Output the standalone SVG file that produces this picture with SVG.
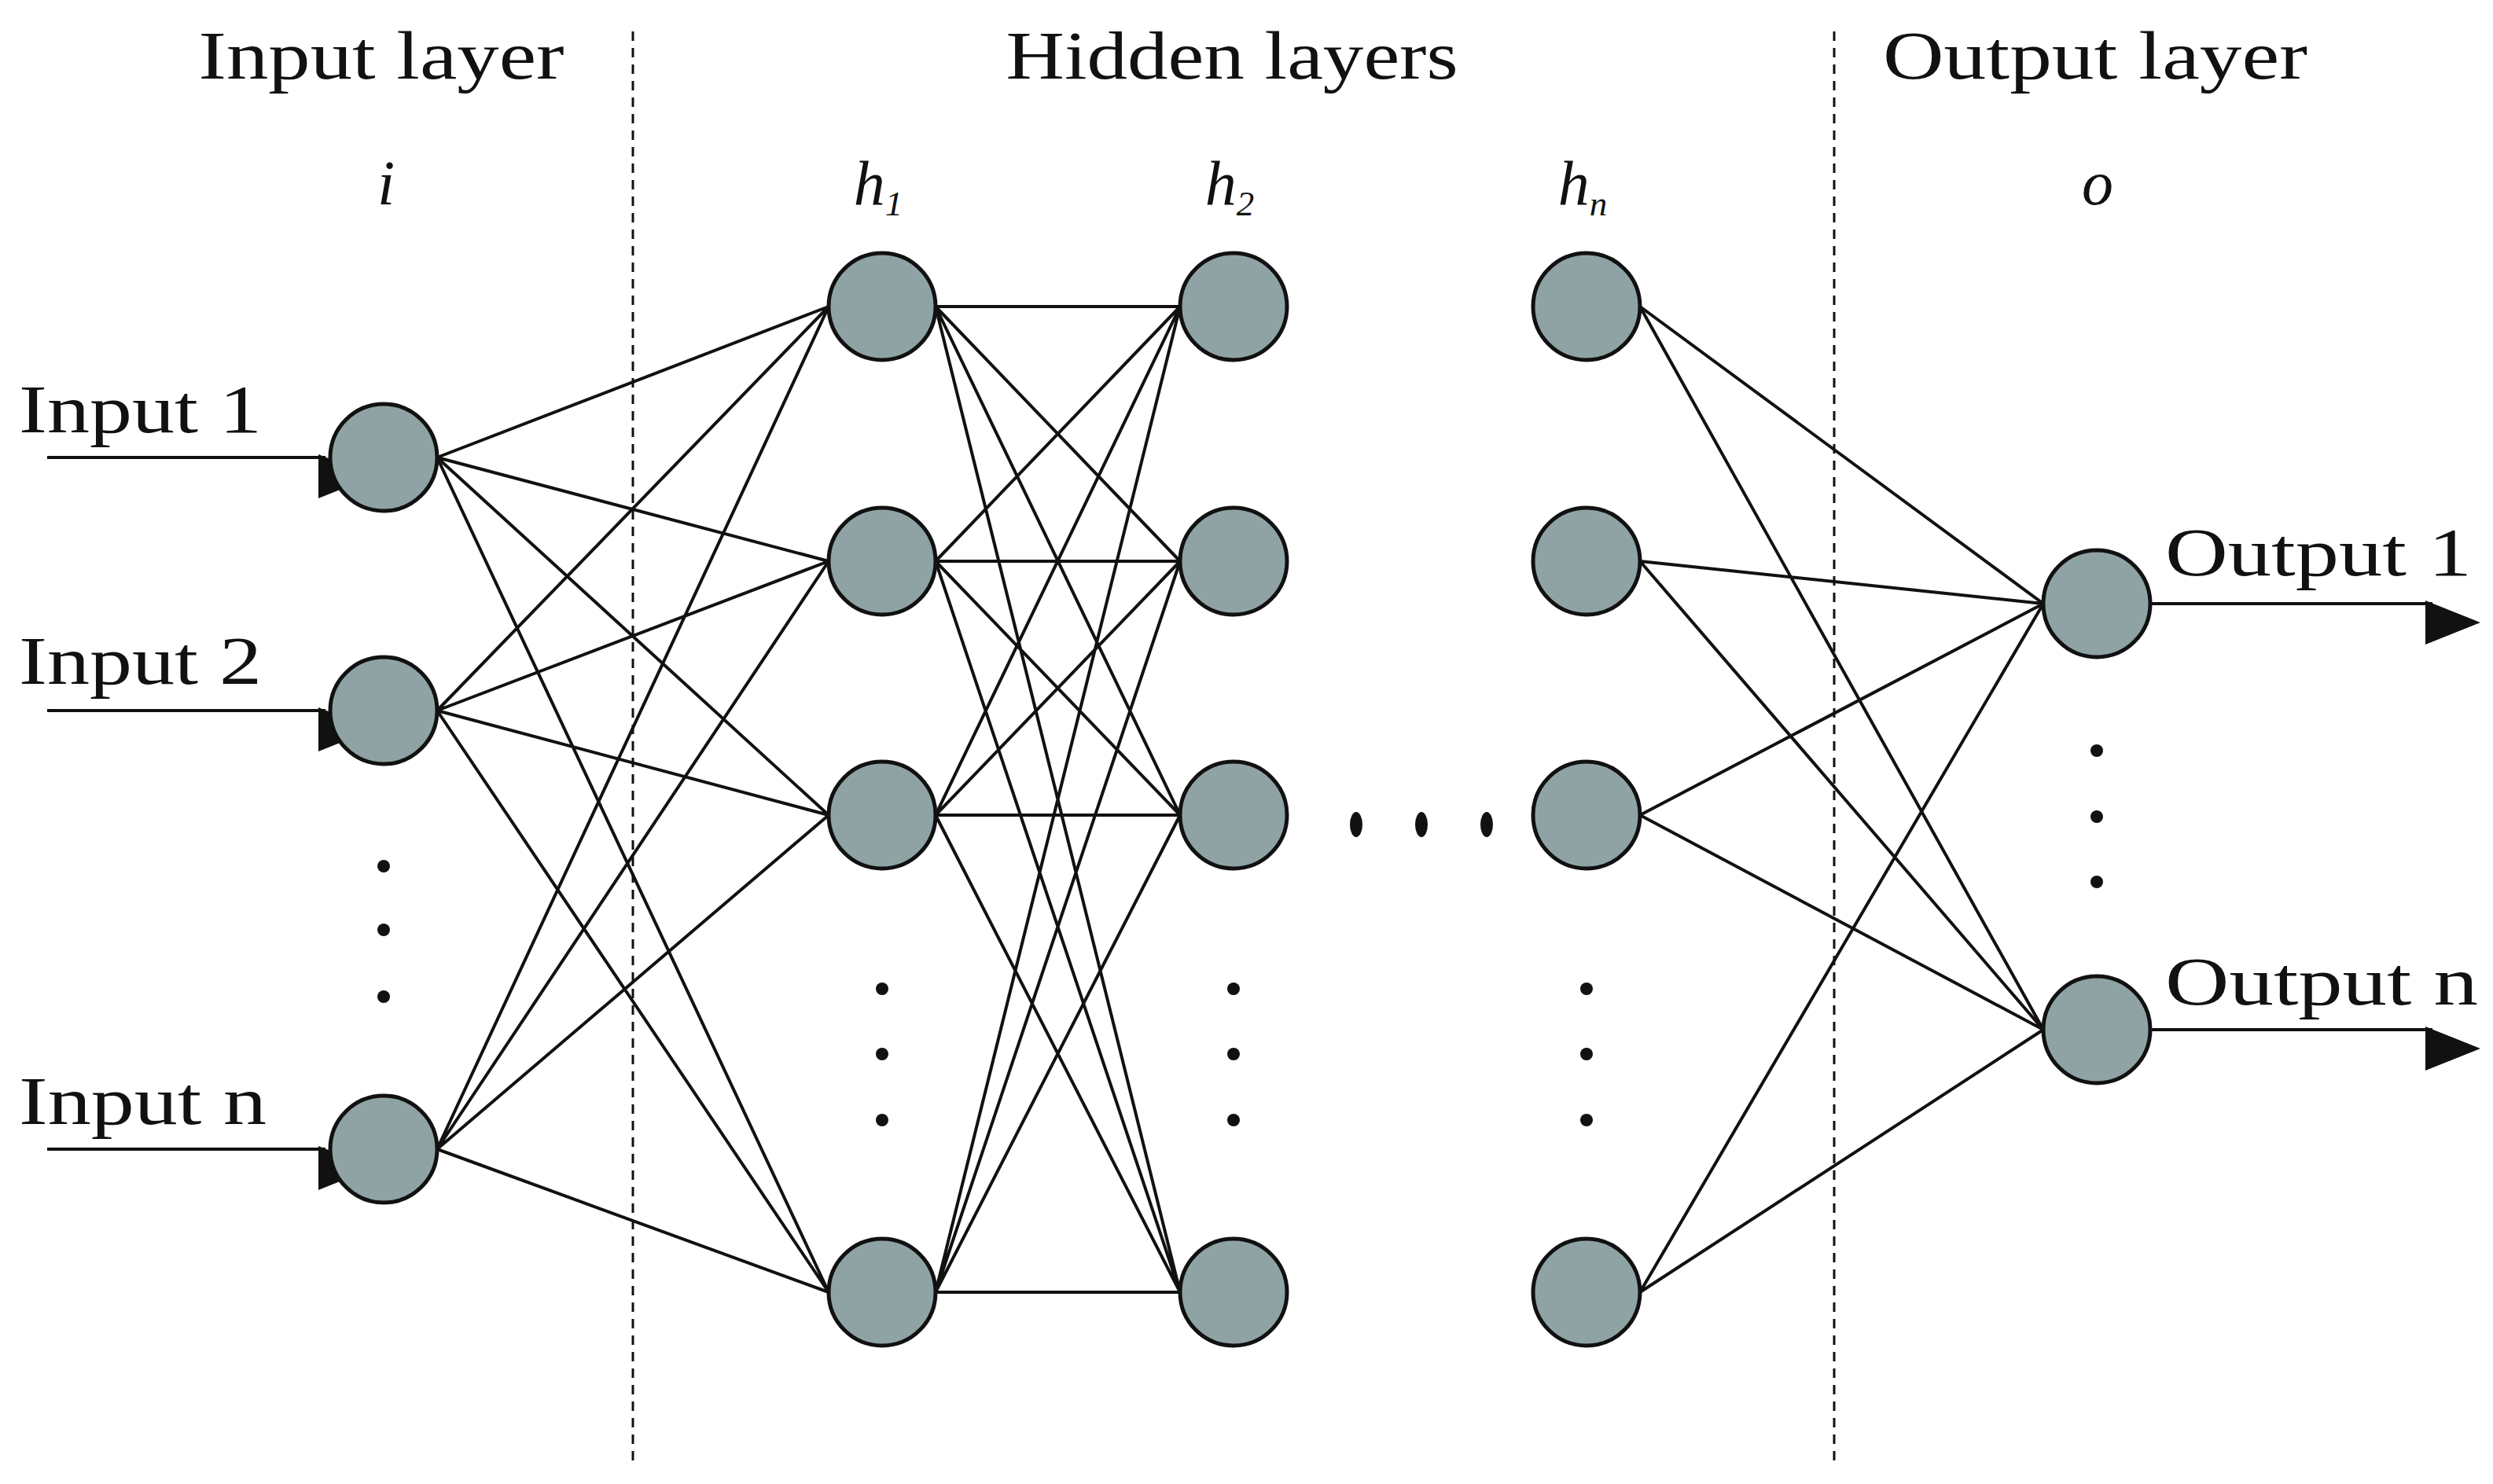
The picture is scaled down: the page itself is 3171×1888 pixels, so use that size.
<svg xmlns="http://www.w3.org/2000/svg" width="3171" height="1888" viewBox="0 0 3171 1888">
<style>
.t{font-family:"Liberation Serif","DejaVu Serif",serif;font-size:86px;fill:#111}
.v{font-family:"Liberation Serif","DejaVu Serif",serif;font-size:80px;font-style:italic;fill:#111;text-anchor:middle}
.n{fill:#8fa3a5;stroke:#111;stroke-width:5}
.e{stroke:#111;stroke-width:4;fill:none}
.d{stroke:#111;stroke-width:3;stroke-dasharray:12 9}
.dot{fill:#111}
</style>
<defs>
<marker id="ah" markerWidth="10" markerHeight="8" refX="9" refY="4" orient="auto" markerUnits="userSpaceOnUse" viewBox="0 0 10 8" style="overflow:visible">
<path d="M0,0 L10,4 L0,8 Z" fill="#111" transform="scale(7)"/>
</marker>
</defs>
<rect width="3171" height="1888" fill="#fff"/>
<line class="d" x1="805" y1="40" x2="805" y2="1862"/>
<line class="d" x1="2333" y1="40" x2="2333" y2="1862"/>
<text class="t" x="485" y="100" text-anchor="middle" textLength="465" lengthAdjust="spacingAndGlyphs">Input layer</text>
<text class="t" x="1567" y="100" text-anchor="middle" textLength="575" lengthAdjust="spacingAndGlyphs">Hidden layers</text>
<text class="t" x="2665" y="100" text-anchor="middle" textLength="540" lengthAdjust="spacingAndGlyphs">Output layer</text>
<text class="v" x="491" y="260">i</text>
<text class="v" x="1117" y="260">h<tspan font-size="45" dy="14">1</tspan></text>
<text class="v" x="1564" y="260">h<tspan font-size="45" dy="14">2</tspan></text>
<text class="v" x="2013" y="260">h<tspan font-size="45" dy="14">n</tspan></text>
<text class="v" x="2668" y="260">o</text>
<g id="connectors">
<g class="e">
<line x1="60" y1="582" x2="414" y2="582" marker-end="url(#ah)"/>
<line x1="60" y1="904" x2="414" y2="904" marker-end="url(#ah)"/>
<line x1="60" y1="1462" x2="414" y2="1462" marker-end="url(#ah)"/>
<line x1="2735" y1="768" x2="3094" y2="768" marker-end="url(#ah)"/>
<line x1="2735" y1="1310" x2="3094" y2="1310" marker-end="url(#ah)"/>
<!-- input to h1 -->
<path d="M556,582L1054,390M556,582L1054,714M556,582L1054,1037M556,582L1054,1644
M556,904L1054,390M556,904L1054,714M556,904L1054,1037M556,904L1054,1644
M556,1462L1054,390M556,1462L1054,714M556,1462L1054,1037M556,1462L1054,1644"/>
<!-- h1 to h2 -->
<path d="M1190,390L1501,390M1190,390L1501,714M1190,390L1501,1037M1190,390L1501,1644
M1190,714L1501,390M1190,714L1501,714M1190,714L1501,1037M1190,714L1501,1644
M1190,1037L1501,390M1190,1037L1501,714M1190,1037L1501,1037M1190,1037L1501,1644
M1190,1644L1501,390M1190,1644L1501,714M1190,1644L1501,1037M1190,1644L1501,1644"/>
<!-- hn to output -->
<path d="M2086,390L2599,768M2086,390L2599,1310M2086,714L2599,768M2086,714L2599,1310
M2086,1037L2599,768M2086,1037L2599,1310M2086,1644L2599,768M2086,1644L2599,1310"/>
</g>
</g>
<text class="t" x="24" y="550" textLength="309" lengthAdjust="spacingAndGlyphs">Input 1</text>
<text class="t" x="24" y="870" textLength="309" lengthAdjust="spacingAndGlyphs">Input 2</text>
<text class="t" x="24" y="1430" textLength="315" lengthAdjust="spacingAndGlyphs">Input n</text>
<text class="t" x="2754" y="732" textLength="390" lengthAdjust="spacingAndGlyphs">Output 1</text>
<text class="t" x="2754" y="1278" textLength="398" lengthAdjust="spacingAndGlyphs">Output n</text>
<g id="input"><circle class="n" cx="488" cy="582" r="68"/><circle class="n" cx="488" cy="904" r="68"/><circle class="n" cx="488" cy="1462" r="68"/></g>
<g id="h1"><circle class="n" cx="1122" cy="390" r="68"/><circle class="n" cx="1122" cy="714" r="68"/><circle class="n" cx="1122" cy="1037" r="68"/><circle class="n" cx="1122" cy="1644" r="68"/></g>
<g id="h2"><circle class="n" cx="1569" cy="390" r="68"/><circle class="n" cx="1569" cy="714" r="68"/><circle class="n" cx="1569" cy="1037" r="68"/><circle class="n" cx="1569" cy="1644" r="68"/></g>
<g id="hn"><circle class="n" cx="2018" cy="390" r="68"/><circle class="n" cx="2018" cy="714" r="68"/><circle class="n" cx="2018" cy="1037" r="68"/><circle class="n" cx="2018" cy="1644" r="68"/></g>
<g id="output"><circle class="n" cx="2667" cy="768" r="68"/><circle class="n" cx="2667" cy="1310" r="68"/></g>
<g id="dots" class="dot">
<circle cx="488" cy="1102" r="8"/><circle cx="488" cy="1183" r="8"/><circle cx="488" cy="1268" r="8"/>
<circle cx="1122" cy="1258" r="8"/><circle cx="1122" cy="1341" r="8"/><circle cx="1122" cy="1425" r="8"/>
<circle cx="1569" cy="1258" r="8"/><circle cx="1569" cy="1341" r="8"/><circle cx="1569" cy="1425" r="8"/>
<circle cx="2018" cy="1258" r="8"/><circle cx="2018" cy="1341" r="8"/><circle cx="2018" cy="1425" r="8"/>
<circle cx="2667" cy="955" r="8"/><circle cx="2667" cy="1039" r="8"/><circle cx="2667" cy="1122" r="8"/>
<ellipse cx="1725" cy="1049" rx="8" ry="16"/><ellipse cx="1808" cy="1049" rx="8" ry="16"/><ellipse cx="1891" cy="1049" rx="8" ry="16"/>
</g>
</svg>
